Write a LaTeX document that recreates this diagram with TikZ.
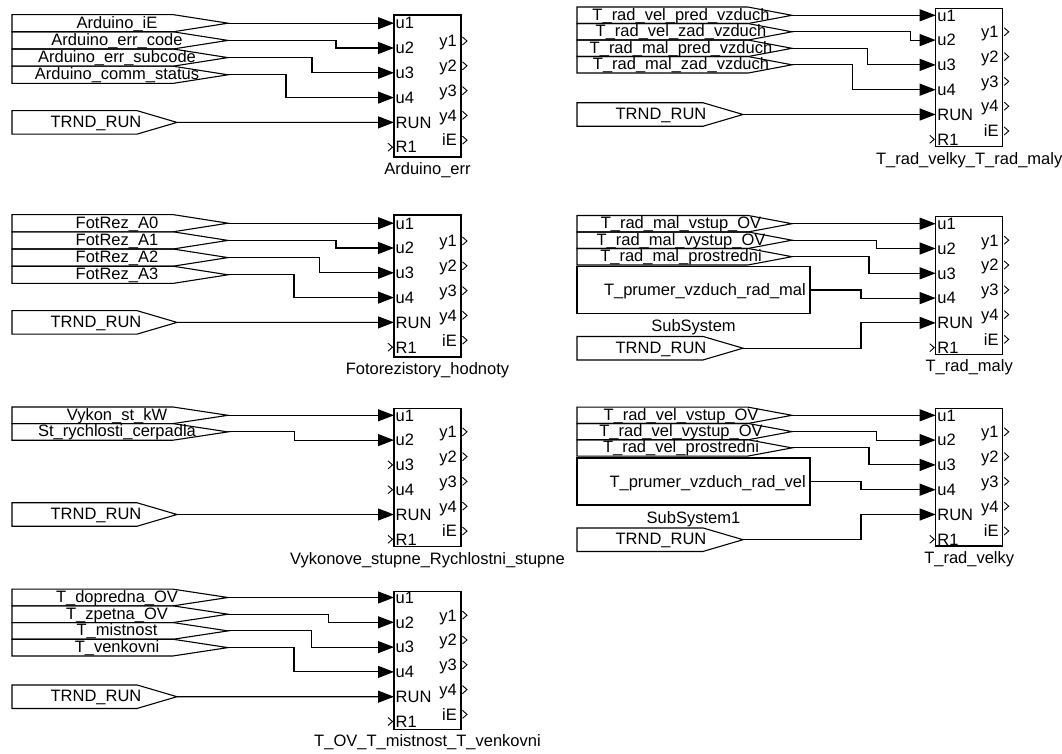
\documentclass[tikz,border=0pt]{standalone}
\usepackage{fontspec}
\setmainfont{Liberation Sans}
\usetikzlibrary{arrows.meta}

\tikzset{
  ln/.style={line width=1.1pt, line join=miter},
  blk/.style={ln, draw=black},
  tagline/.style={ln, draw=black},
  conn/.style={ln, draw=black, -{Triangle[length=16pt,width=12pt]}},
  chev/.style={line width=0.9pt, draw=black},
  txt/.style={inner sep=0pt, font=\fontsize{16.5}{18}\selectfont},
}

% signal tag: #1 name, #2 x0, #3 ymid, #4 corner x, #5 tip x, #6 half height, #7 text x, #8 text
\newcommand\sigtag[8]{%
  \draw[tagline] (#2,#3-#6) -- (#4,#3-#6) -- (#5,#3) -- (#4,#3+#6) -- (#2,#3+#6) -- cycle;
  \node[txt,anchor=base] (#1-l) at (#7,#3+5) {#8};
  \coordinate (#1) at (#5,#3);%
}

% function block: #1 name, #2 left, #3 top, #4 height, #5 input offset, #6 output offset, #7 label
\newcommand\fblock[7]{%
  \draw[blk] (#2,#3) rectangle ++(67,#4);
  \foreach \k/\p in {0/u1,1/u2,2/u3,3/u4,4/RUN,5/R1}{
    \coordinate (#1-\p) at (#2,#3+#5+24.8*\k);
    \node[txt,anchor=base west] (#1-\p-l) at (#2+1.5,#3+#5+24.8*\k+5.8) {\p};
  }
  \foreach \k/\p in {0/y1,1/y2,2/y3,3/y4,4/iE}{
    \coordinate (#1-\p) at (#2+67,#3+#6+24.8*\k);
    \node[txt,anchor=base east] (#1-\p-l) at (#2+63,#3+#6+24.8*\k+5.8) {\p};
    \draw[chev] (#2+68.5,#3+#6+24.8*\k-4) -- (#2+73,#3+#6+24.8*\k) -- (#2+68.5,#3+#6+24.8*\k+4);
  }
  \node[txt,anchor=base] (#1-name) at (#2+33.5,#3+#4+17.5) {#7};%
}

\newcommand\openport[1]{\draw[chev] (#1) ++(-6,-4) -- ++(4.5,4) -- ++(-4.5,4);}

\begin{document}
\begin{tikzpicture}[x=1pt,y=-1pt]
\fill[white] (0,0) rectangle (1062,754);
\useasboundingbox (0,0) rectangle (1062,754);

% ---------------- Block 1: Arduino_err ----------------
\fblock{b1}{394}{15}{142}{8.2}{26}{Arduino\_err}
\sigtag{b1t1}{12}{23.2}{173}{228}{8.6}{117}{Arduino\_iE}
\sigtag{b1t2}{12}{40.4}{173}{228}{8.6}{117}{Arduino\_err\_code}
\sigtag{b1t3}{12}{57.6}{173}{228}{8.6}{117}{Arduino\_err\_subcode}
\sigtag{b1t4}{12}{74.8}{173}{228}{8.6}{117}{Arduino\_comm\_status}
\sigtag{b1r}{12}{122.4}{137}{177}{11.75}{96}{TRND\_RUN}
\draw[conn] (b1t1) -- (b1-u1);
\draw[conn] (b1t2) -- ++(108,0) |- (b1-u2);
\draw[conn] (b1t3) -- ++(84,0) |- (b1-u3);
\draw[conn] (b1t4) -- ++(58,0) |- (b1-u4);
\draw[conn] (b1r) -- (b1-RUN);
\openport{b1-R1}

% ---------------- Block 3: Fotorezistory_hodnoty ----------------
\fblock{b3}{394}{215}{142}{8.2}{26}{Fotorezistory\_hodnoty}
\sigtag{b3t1}{12}{223.2}{173}{228}{8.6}{117}{FotRez\_A0}
\sigtag{b3t2}{12}{240.4}{173}{228}{8.6}{117}{FotRez\_A1}
\sigtag{b3t3}{12}{257.6}{173}{228}{8.6}{117}{FotRez\_A2}
\sigtag{b3t4}{12}{274.8}{173}{228}{8.6}{117}{FotRez\_A3}
\sigtag{b3r}{12}{322.4}{137}{177}{11.75}{96}{TRND\_RUN}
\draw[conn] (b3t1) -- (b3-u1);
\draw[conn] (b3t2) -- ++(108,0) |- (b3-u2);
\draw[conn] (b3t3) -- ++(91.3,0) |- (b3-u3);
\draw[conn] (b3t4) -- ++(66,0) |- (b3-u4);
\draw[conn] (b3r) -- (b3-RUN);
\openport{b3-R1}

% ---------------- Block 5: Vykonove_stupne_Rychlostni_stupne ----------------
\fblock{b5}{394}{408.3}{138.4}{7}{23.5}{Vykonove\_stupne\_Rychlostni\_stupne}
\sigtag{b5t1}{12}{415.3}{173}{228}{8.3}{117}{Vykon\_st\_kW}
\sigtag{b5t2}{12}{431.9}{173}{228}{8.3}{117}{St\_rychlosti\_cerpadla}
\sigtag{b5r}{12}{514.5}{137}{177}{11.75}{96}{TRND\_RUN}
\draw[conn] (b5t1) -- (b5-u1);
\draw[conn] (b5t2) -- ++(66.5,0) |- (b5-u2);
\draw[conn] (b5r) -- (b5-RUN);
\openport{b5-u3}
\openport{b5-u4}
\openport{b5-R1}

% ---------------- Block 7: T_OV_T_mistnost_T_venkovni ----------------
\fblock{b7}{394}{591.7}{137.6}{5.8}{23.5}{T\_OV\_T\_mistnost\_T\_venkovni}
\sigtag{b7t1}{12}{597.5}{173}{228}{8.35}{117}{T\_dopredna\_OV}
\sigtag{b7t2}{12}{614.2}{173}{228}{8.35}{117}{T\_zpetna\_OV}
\sigtag{b7t3}{12}{630.9}{173}{228}{8.35}{117}{T\_mistnost}
\sigtag{b7t4}{12}{647.6}{173}{228}{8.35}{117}{T\_venkovni}
\sigtag{b7r}{12}{696.7}{137}{177}{11.75}{96}{TRND\_RUN}
\draw[conn] (b7t1) -- (b7-u1);
\draw[conn] (b7t2) -- ++(100.3,0) |- (b7-u2);
\draw[conn] (b7t3) -- ++(83.7,0) |- (b7-u3);
\draw[conn] (b7t4) -- ++(66,0) |- (b7-u4);
\draw[conn] (b7r) -- (b7-RUN);
\openport{b7-R1}

% ---------------- Block 2: T_rad_velky_T_rad_maly ----------------
\fblock{b2}{935.7}{8.3}{138.4}{7}{23.5}{T\_rad\_velky\_T\_rad\_maly}
\sigtag{b2t1}{577}{15.3}{748}{792}{8.25}{681}{T\_rad\_vel\_pred\_vzduch}
\sigtag{b2t2}{577}{31.8}{748}{792}{8.25}{681}{T\_rad\_vel\_zad\_vzduch}
\sigtag{b2t3}{577}{48.3}{748}{792}{8.25}{681}{T\_rad\_mal\_pred\_vzduch}
\sigtag{b2t4}{577}{64.8}{748}{792}{8.25}{681}{T\_rad\_mal\_zad\_vzduch}
\sigtag{b2r}{577}{114.5}{703}{743}{11.75}{661}{TRND\_RUN}
\draw[conn] (b2t1) -- (b2-u1);
\draw[conn] (b2t2) -- ++(118.7,0) |- (b2-u2);
\draw[conn] (b2t3) -- ++(75.7,0) |- (b2-u3);
\draw[conn] (b2t4) -- ++(60.7,0) |- (b2-u4);
\draw[conn] (b2r) -- (b2-RUN);
\openport{b2-R1}

% ---------------- Block 4: T_rad_maly ----------------
\fblock{b4}{935.7}{216.7}{137.6}{7}{23.5}{T\_rad\_maly}
\sigtag{b4t1}{577}{223.7}{748}{792}{8.25}{681}{T\_rad\_mal\_vstup\_OV}
\sigtag{b4t2}{577}{240.2}{748}{792}{8.25}{681}{T\_rad\_mal\_vystup\_OV}
\sigtag{b4t3}{577}{256.7}{748}{792}{8.25}{681}{T\_rad\_mal\_prostredni}
\draw[blk] (577,266.7) rectangle (810,313.3);
\node[txt,anchor=base east] (b4s-l) at (806,295.8) {T\_prumer\_vzduch\_rad\_mal};
\coordinate (b4s) at (810,290);
\node[txt,anchor=base] (b4s-name) at (693.5,331.7) {SubSystem};
\sigtag{b4r}{577}{348.2}{703}{743}{11.75}{661}{TRND\_RUN}
\draw[conn] (b4t1) -- (b4-u1);
\draw[conn] (b4t2) -- ++(84.7,0) |- (b4-u2);
\draw[conn] (b4t3) -- ++(77,0) |- (b4-u3);
\draw[conn] (b4s) -- ++(51,0) |- (b4-u4);
\draw[conn] (b4r) -- ++(118,0) |- (b4-RUN);
\openport{b4-R1}

% ---------------- Block 6: T_rad_velky ----------------
\fblock{b6}{935.7}{408.3}{137.7}{7}{23.5}{T\_rad\_velky}
\sigtag{b6t1}{577}{415.3}{748}{792}{8.15}{681}{T\_rad\_vel\_vstup\_OV}
\sigtag{b6t2}{577}{431.6}{748}{792}{8.15}{681}{T\_rad\_vel\_vystup\_OV}
\sigtag{b6t3}{577}{447.9}{748}{792}{8.15}{681}{T\_rad\_vel\_prostredni}
\draw[blk] (577,458) rectangle (810,505);
\node[txt,anchor=base east] (b6s-l) at (806,487.3) {T\_prumer\_vzduch\_rad\_vel};
\coordinate (b6s) at (810,481.5);
\node[txt,anchor=base] (b6s-name) at (693.5,523.3) {SubSystem1};
\sigtag{b6r}{577}{539.7}{703}{743}{11.75}{661}{TRND\_RUN}
\draw[conn] (b6t1) -- (b6-u1);
\draw[conn] (b6t2) -- ++(84.7,0) |- (b6-u2);
\draw[conn] (b6t3) -- ++(77,0) |- (b6-u3);
\draw[conn] (b6s) -- ++(51,0) |- (b6-u4);
\draw[conn] (b6r) -- ++(118,0) |- (b6-RUN);
\openport{b6-R1}

\end{tikzpicture}
\end{document}
